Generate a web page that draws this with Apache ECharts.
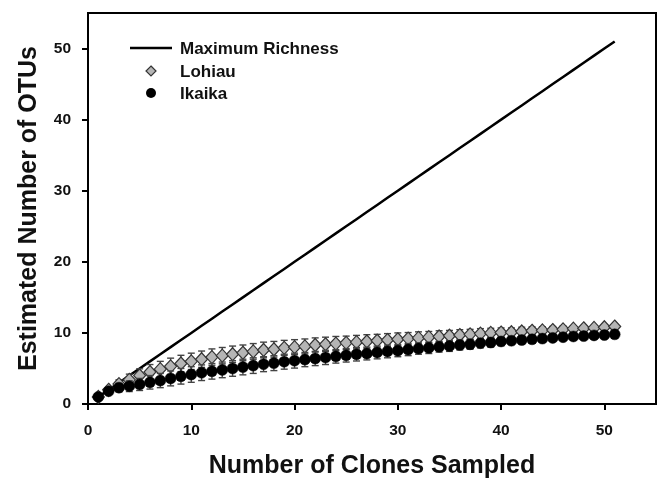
<!DOCTYPE html>
<html>
<head>
<meta charset="utf-8">
<script src="https://cdn.jsdelivr.net/npm/echarts@6/dist/echarts.min.js"></script>
<style>
  html, body { margin: 0; padding: 0; background: #fff; }
  #chart { width: 659px; height: 484px; }
</style>
</head>
<body>
<div id="chart"></div>
<script>
// Number of clones sampled (x positions)
const clones = [1,2,3,4,5,6,7,8,9,10,11,12,13,14,15,16,17,18,19,20,21,22,23,24,25,26,
  27,28,29,30,31,32,33,34,35,36,37,38,39,40,41,42,43,44,45,46,47,48,49,50,51];

// Maximum possible richness: one new OTU per clone
const maxRichness = [1,2,3,4,5,6,7,8,9,10,11,12,13,14,15,16,17,18,19,20,21,22,23,24,25,26,
  27,28,29,30,31,32,33,34,35,36,37,38,39,40,41,42,43,44,45,46,47,48,49,50,51];

// Lohiau rarefaction: mean OTUs and error
const lohiau = [1.0,2.0,2.8,3.4,4.0,4.5,4.9,5.3,5.7,6.0,6.3,6.6,6.8,7.0,7.2,7.4,7.6,7.7,7.9,8.0,
  8.1,8.3,8.4,8.5,8.6,8.7,8.8,8.9,9.0,9.1,9.2,9.3,9.4,9.5,9.6,9.7,9.8,9.9,10.0,10.05,
  10.1,10.2,10.3,10.35,10.4,10.5,10.6,10.65,10.7,10.8,10.9];
const lohiauErr = [0,0.4,0.6,0.8,0.95,1.05,1.1,1.15,1.15,1.15,1.15,1.15,1.15,1.15,1.1,1.1,1.1,1.1,1.05,1.05,
  1.05,1.0,1.0,1.0,0.95,0.95,0.95,0.9,0.9,0.9,0.85,0.85,0.8,0.8,0.75,0.75,0.7,0.7,0.65,0.65,
  0.6,0.6,0.55,0.5,0.5,0.45,0.4,0.35,0.3,0.25,0];

// Ikaika rarefaction: mean OTUs and error
const ikaika = [1.0,1.8,2.3,2.5,2.75,3.05,3.3,3.6,3.9,4.15,4.4,4.6,4.8,5.0,5.2,5.4,5.6,5.75,5.95,6.1,
  6.25,6.4,6.55,6.7,6.85,7.0,7.1,7.25,7.4,7.5,7.65,7.8,7.9,8.05,8.15,8.3,8.4,8.55,8.65,8.8,
  8.9,9.0,9.1,9.2,9.3,9.4,9.5,9.55,9.65,9.7,9.8];
const ikaikaErr = [0,0.4,0.6,0.75,0.85,0.95,1.0,1.05,1.1,1.1,1.1,1.1,1.1,1.1,1.1,1.1,1.05,1.05,1.05,1.05,
  1.0,1.0,1.0,0.95,0.95,0.95,0.9,0.9,0.9,0.85,0.85,0.8,0.8,0.75,0.75,0.7,0.7,0.65,0.65,0.6,
  0.55,0.55,0.5,0.5,0.45,0.4,0.4,0.35,0.3,0.25,0];

const xTicks = [0,10,20,30,40,50];
const yTicks = [0,10,20,30,40,50];

const FONT = '"Liberation Sans", Arial, Helvetica, sans-serif';

function pairs(xs, ys) { return xs.map((x, i) => [x, ys[i]]); }
function bars(xs, ys, es) { return xs.map((x, i) => [x, ys[i] - es[i], ys[i] + es[i]]); }

function renderErrorBar(params, api) {
  const x = api.value(0);
  const lo = api.coord([x, api.value(1)]);
  const hi = api.coord([x, api.value(2)]);
  const cap = 3.5;
  const style = { stroke: '#444', lineWidth: 1.4 };
  return {
    type: 'group',
    children: [
      { type: 'line', shape: { x1: hi[0], y1: hi[1], x2: lo[0], y2: lo[1] }, style },
      { type: 'line', shape: { x1: hi[0] - cap, y1: hi[1], x2: hi[0] + cap, y2: hi[1] }, style },
      { type: 'line', shape: { x1: lo[0] - cap, y1: lo[1], x2: lo[0] + cap, y2: lo[1] }, style }
    ]
  };
}

const chart = echarts.init(document.getElementById('chart'), null, { renderer: 'canvas' });

chart.setOption({
  animation: false,
  backgroundColor: '#fff',
  grid: {
    left: 88, right: 3, top: 13, bottom: 76,
    show: true, borderColor: '#000', borderWidth: 2, backgroundColor: 'transparent'
  },
  xAxis: {
    type: 'value', min: 0, max: 55,
    name: 'Number of Clones Sampled',
    nameLocation: 'middle', nameGap: 50,
    nameTextStyle: { fontFamily: FONT, fontWeight: 'bold', fontSize: 25, color: '#111' },
    axisLine: { show: true, onZero: false, lineStyle: { color: '#000', width: 2 } },
    axisTick: { show: true, inside: false, length: 6, lineStyle: { color: '#000', width: 2 }, customValues: xTicks },
    axisLabel: { customValues: xTicks, margin: 19, fontFamily: FONT, fontWeight: 'bold', fontSize: 15.5, color: '#111' },
    splitLine: { show: false }
  },
  yAxis: {
    type: 'value', min: 0, max: 55,
    name: 'Estimated Number of OTUs',
    nameLocation: 'middle', nameGap: 46,
    nameTextStyle: { fontFamily: FONT, fontWeight: 'bold', fontSize: 25, color: '#111' },
    axisLine: { show: true, onZero: false, lineStyle: { color: '#000', width: 2 } },
    axisTick: { show: true, inside: false, length: 6, lineStyle: { color: '#000', width: 2 }, customValues: yTicks },
    axisLabel: { customValues: yTicks, margin: 17, fontFamily: FONT, fontWeight: 'bold', fontSize: 15.5, color: '#111' },
    splitLine: { show: false }
  },
  series: [
    {
      name: 'Maximum Richness', type: 'line', data: pairs(clones, maxRichness),
      showSymbol: false, symbol: 'none', z: 1,
      lineStyle: { color: '#000', width: 2.5 }
    },
    {
      name: 'Lohiau error', type: 'custom', renderItem: renderErrorBar,
      data: bars(clones, lohiau, lohiauErr), encode: { x: 0, y: [1, 2] }, z: 2
    },
    {
      name: 'Lohiau', type: 'scatter', data: pairs(clones, lohiau), z: 3,
      symbol: 'diamond', symbolSize: [12, 13],
      itemStyle: { color: '#b5b5b5', borderColor: '#333', borderWidth: 1.2, opacity: 1 }
    },
    {
      name: 'Ikaika error', type: 'custom', renderItem: renderErrorBar,
      data: bars(clones, ikaika, ikaikaErr), encode: { x: 0, y: [1, 2] }, z: 4
    },
    {
      name: 'Ikaika', type: 'scatter', data: pairs(clones, ikaika), z: 5,
      symbol: 'circle', symbolSize: 11,
      itemStyle: { color: '#000', borderColor: '#000', borderWidth: 0.5, opacity: 1 }
    }
  ],
  // legend drawn at fixed positions inside the plot frame
  graphic: [
    { type: 'line', z: 10, shape: { x1: 130, y1: 48, x2: 172, y2: 48 }, style: { stroke: '#000', lineWidth: 2.5 } },
    { type: 'text', z: 10, x: 180, y: 49, style: { text: 'Maximum Richness', font: 'bold 17px ' + FONT, fill: '#111', verticalAlign: 'middle' } },
    { type: 'polygon', z: 10, shape: { points: [[151, 66], [156, 71], [151, 76], [146, 71]] }, style: { fill: '#b5b5b5', stroke: '#333', lineWidth: 1.2 } },
    { type: 'text', z: 10, x: 180, y: 72, style: { text: 'Lohiau', font: 'bold 17px ' + FONT, fill: '#111', verticalAlign: 'middle' } },
    { type: 'circle', z: 10, shape: { cx: 151, cy: 93, r: 5 }, style: { fill: '#000' } },
    { type: 'text', z: 10, x: 180, y: 94, style: { text: 'Ikaika', font: 'bold 17px ' + FONT, fill: '#111', verticalAlign: 'middle' } }
  ]
});
</script>
</body>
</html>
